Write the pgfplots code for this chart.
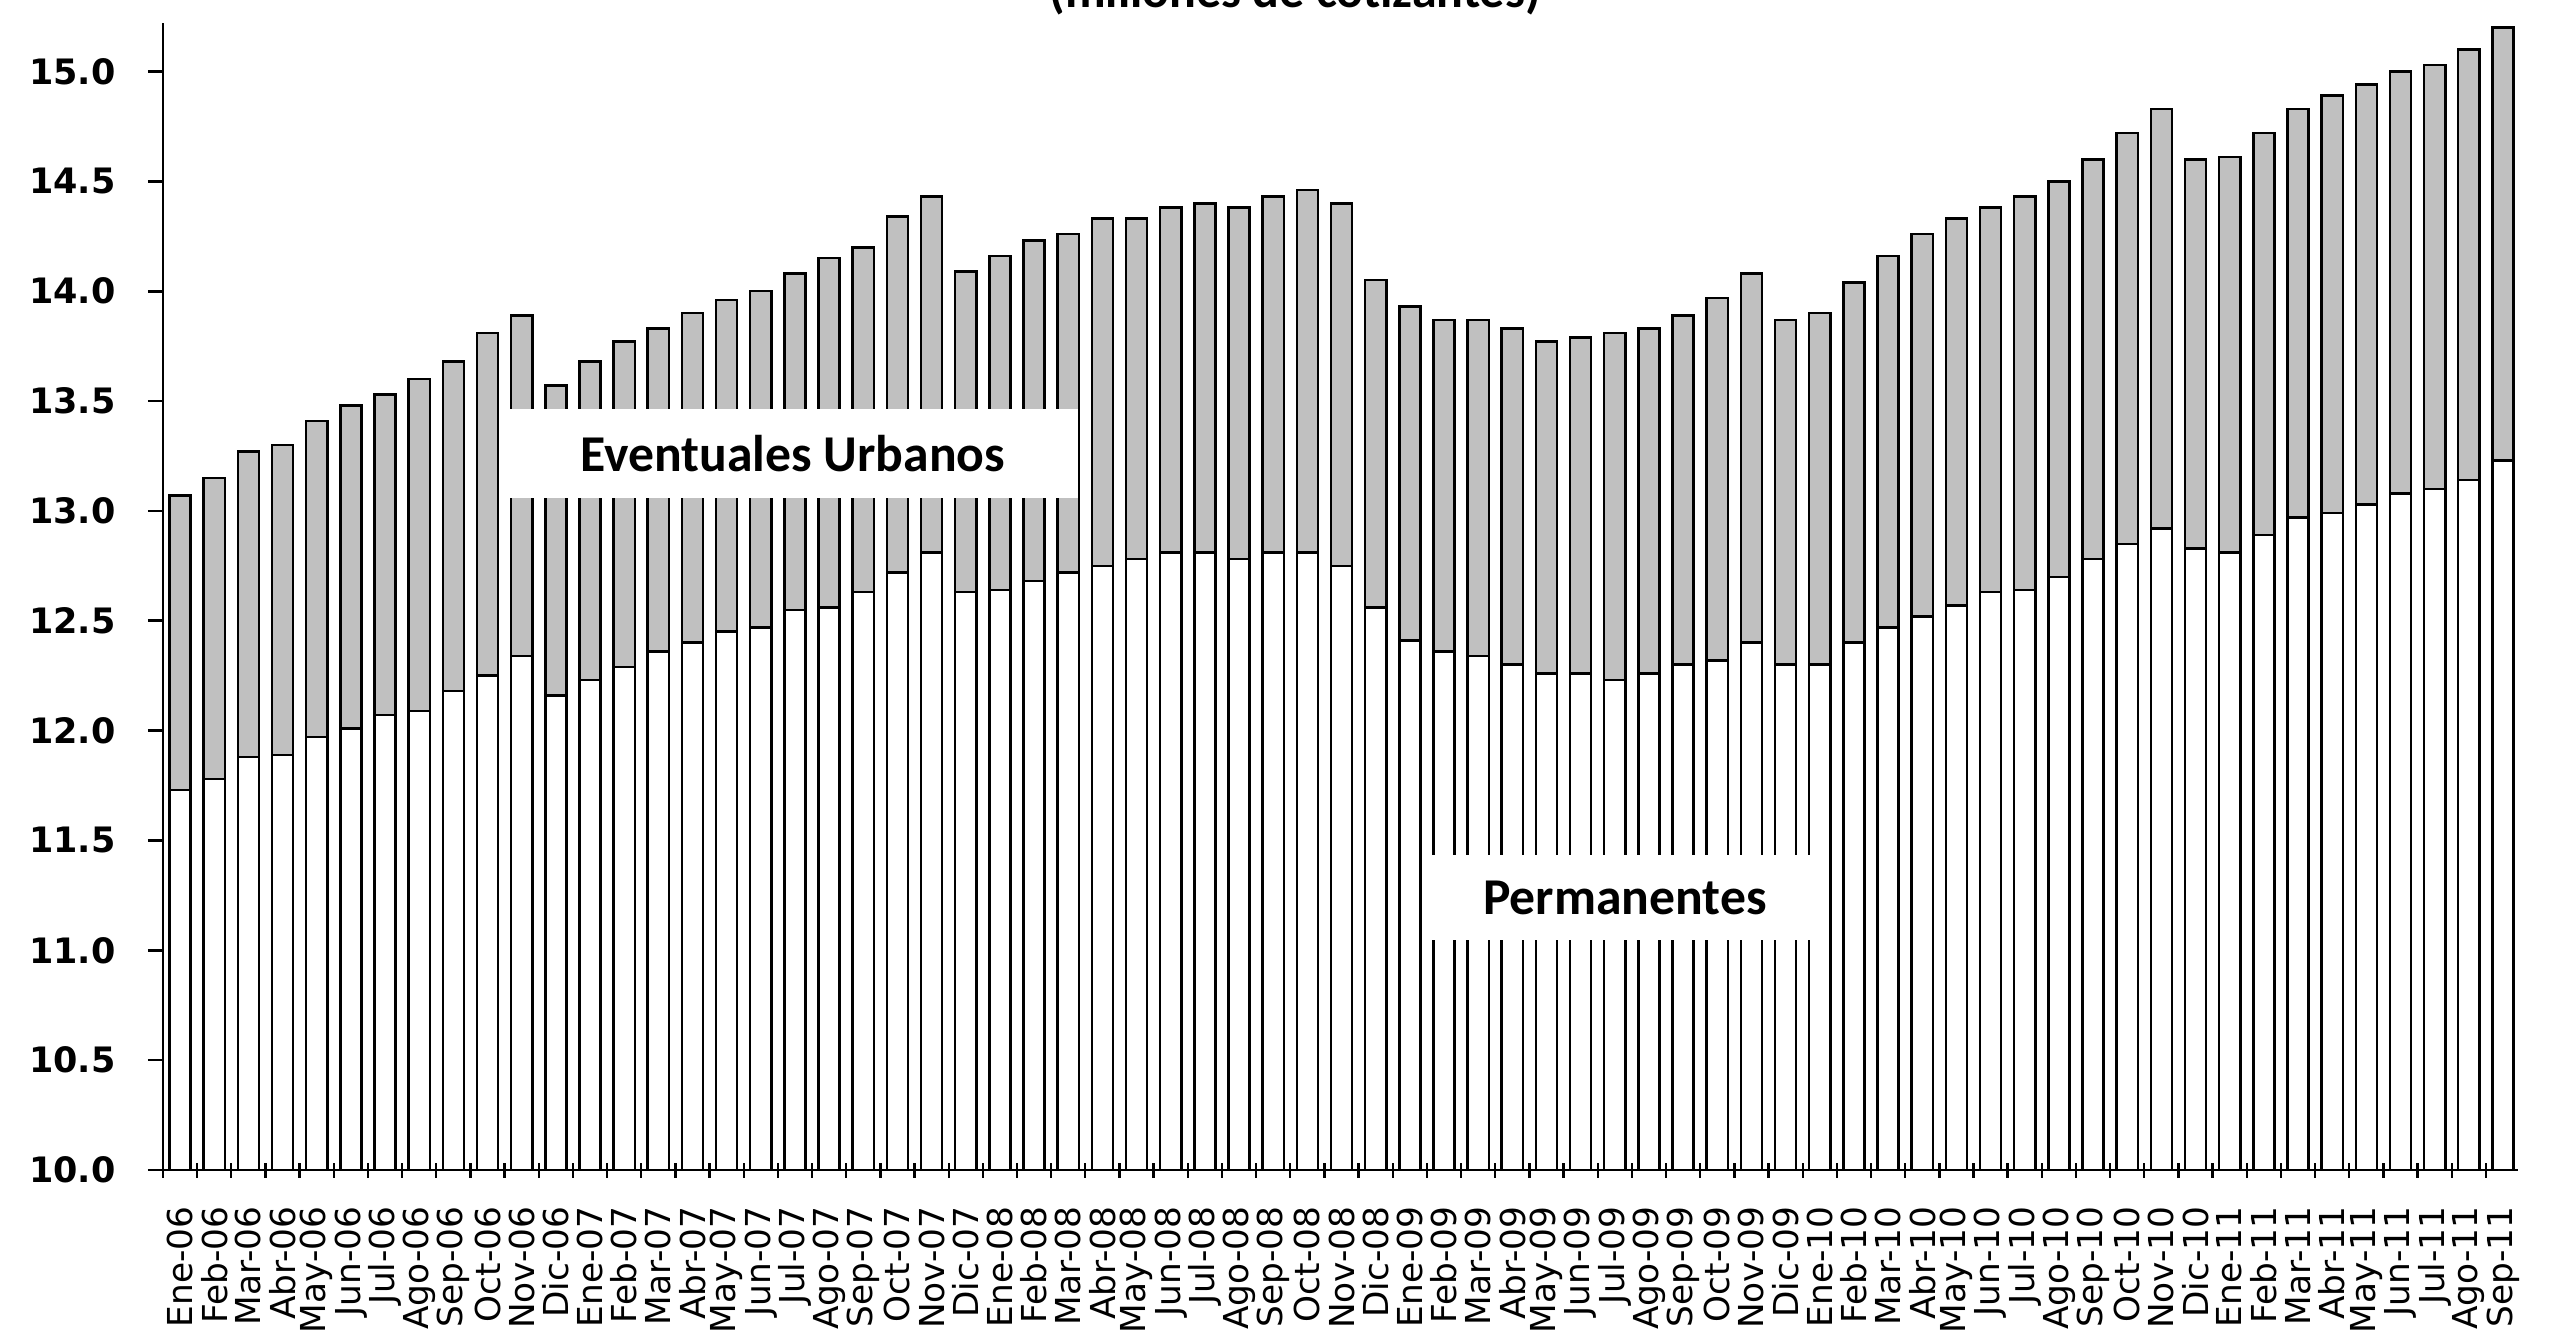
\documentclass[border=0pt]{standalone}
\usepackage{pgfplots}
\pgfplotsset{compat=1.18}
\usepackage{pgfplotstable}
\usepackage{fontspec}
\setmainfont{Carlito}
\newfontfamily\dejavu{DejaVu Sans}
\definecolor{barg}{RGB}{192,192,192}

\pgfplotstableread{
x perm ev
0 11.73 1.34
1 11.78 1.37
2 11.88 1.39
3 11.89 1.41
4 11.97 1.44
5 12.01 1.47
6 12.07 1.46
7 12.09 1.51
8 12.18 1.50
9 12.25 1.56
10 12.34 1.55
11 12.16 1.41
12 12.23 1.45
13 12.29 1.48
14 12.36 1.47
15 12.40 1.50
16 12.45 1.51
17 12.47 1.53
18 12.55 1.53
19 12.56 1.59
20 12.63 1.57
21 12.72 1.62
22 12.81 1.62
23 12.63 1.46
24 12.64 1.52
25 12.68 1.55
26 12.72 1.54
27 12.75 1.58
28 12.78 1.55
29 12.81 1.57
30 12.81 1.59
31 12.78 1.60
32 12.81 1.62
33 12.81 1.65
34 12.75 1.65
35 12.56 1.49
36 12.41 1.52
37 12.36 1.51
38 12.34 1.53
39 12.30 1.53
40 12.26 1.51
41 12.26 1.53
42 12.23 1.58
43 12.26 1.57
44 12.30 1.59
45 12.32 1.65
46 12.40 1.68
47 12.30 1.57
48 12.30 1.60
49 12.40 1.64
50 12.47 1.69
51 12.52 1.74
52 12.57 1.76
53 12.63 1.75
54 12.64 1.79
55 12.70 1.80
56 12.78 1.82
57 12.85 1.87
58 12.92 1.91
59 12.83 1.77
60 12.81 1.80
61 12.89 1.83
62 12.97 1.86
63 12.99 1.90
64 13.03 1.91
65 13.08 1.92
66 13.10 1.93
67 13.14 1.96
68 13.23 1.97
}\datatable

\begin{document}
\begin{tikzpicture}
\begin{axis}[
  name=ax,
  scale only axis,
  width=706.6pt, height=344.05pt,
  xmin=-0.5, xmax=68.45,
  ymin=10, ymax=15.22,
  axis x line=bottom, axis y line=left,
  axis line style={-, black, line width=0.8pt},
  ybar stacked,
  bar width=0.62,
  tick align=center,
  major tick length=4.5pt,
  xtick={-0.5,0.5,...,68.5},
  xticklabels={},
  xtick style={black, line width=0.7pt},
  extra x ticks={0,1,...,68},
  extra x tick labels={Ene-06,Feb-06,Mar-06,Abr-06,May-06,Jun-06,Jul-06,Ago-06,Sep-06,Oct-06,Nov-06,Dic-06,Ene-07,Feb-07,Mar-07,Abr-07,May-07,Jun-07,Jul-07,Ago-07,Sep-07,Oct-07,Nov-07,Dic-07,Ene-08,Feb-08,Mar-08,Abr-08,May-08,Jun-08,Jul-08,Ago-08,Sep-08,Oct-08,Nov-08,Dic-08,Ene-09,Feb-09,Mar-09,Abr-09,May-09,Jun-09,Jul-09,Ago-09,Sep-09,Oct-09,Nov-09,Dic-09,Ene-10,Feb-10,Mar-10,Abr-10,May-10,Jun-10,Jul-10,Ago-10,Sep-10,Oct-10,Nov-10,Dic-10,Ene-11,Feb-11,Mar-11,Abr-11,May-11,Jun-11,Jul-11,Ago-11,Sep-11},
  extra x tick style={tick style={draw=none}},
  xticklabel style={rotate=90, anchor=east, font=\dejavu\fontsize{10.3}{12}\selectfont},
  xticklabel shift=5.2pt,
  ytick={10,10.5,...,15},
  ytick style={black, line width=0.8pt, xshift=-2.25pt},
  yticklabel style={font=\dejavu\bfseries\fontsize{10.5}{12}\selectfont, /pgf/number format/.cd, fixed, fixed zerofill, precision=1, assume math mode=true},
  yticklabel shift=8.5pt,
  clip=true,
]
\addplot[draw=black, fill=white, line width=0.75pt] table[x=x, y=perm] {\datatable};
\addplot[draw=black, fill=barg, line width=0.75pt] table[x=x, y=ev] {\datatable};
\coordinate (evpos) at (axis cs:17.94,13.26);
\coordinate (pmpos) at (axis cs:42.3,11.24);
\end{axis}
\node[fill=white, minimum width=171pt, minimum height=26.7pt, inner sep=0pt,
      font=\bfseries\fontsize{15.5}{18}\selectfont] at (evpos) {Eventuales Urbanos};
\node[fill=white, minimum width=121.8pt, minimum height=25.5pt, inner sep=0pt,
      font=\bfseries\fontsize{15.5}{18}\selectfont] at (pmpos) {Permanentes};
\node[font=\bfseries\fontsize{15}{18}\selectfont, anchor=base] at ([shift={(339.6pt,348.8pt)}]ax.south west) {(millones de cotizantes)};
\pgfresetboundingbox
\path[use as bounding box] ([shift={(-48.9pt,-51pt)}]ax.south west) rectangle ++(767.7pt,402pt);
\end{tikzpicture}
\end{document}
